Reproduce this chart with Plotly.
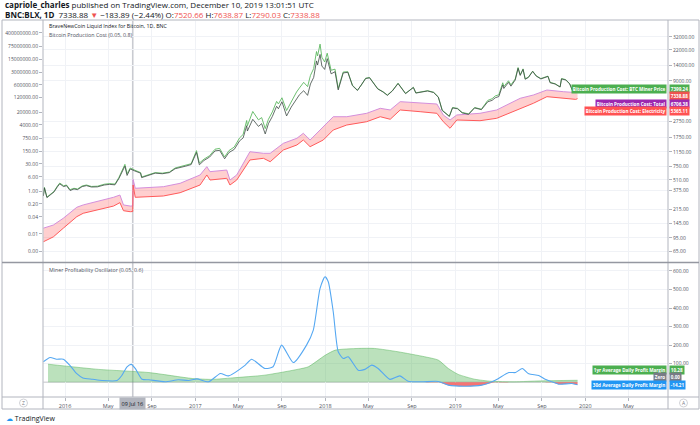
import numpy as np
import plotly.graph_objects as go

W, H = 700, 425
FONT = "Open Sans"
GRID = "#f0f2f6"
AXIS = "#b2b5be"

# BNC:BLX price (daily closes) and the BTC Miner Price line
price_dates = (
    ['2015-11-01', '2015-11-04', '2015-11-11', '2015-11-20', '2015-12-01', '2015-12-10', '2015-12-17', '2015-12-28']
    + ['2016-01-05', '2016-01-15', '2016-01-26', '2016-02-05', '2016-02-18', '2016-03-01', '2016-03-15', '2016-04-01',
       '2016-04-20', '2016-05-05', '2016-05-20', '2016-05-31']
    + ['2016-06-12', '2016-06-17', '2016-06-23', '2016-07-02', '2016-07-15', '2016-07-31', '2016-08-03', '2016-08-20',
       '2016-09-10', '2016-09-30', '2016-10-20', '2016-11-05', '2016-11-20', '2016-12-05', '2016-12-20']
    + ['2017-01-04', '2017-01-12', '2017-01-25', '2017-02-10', '2017-02-25', '2017-03-10', '2017-03-24', '2017-04-05',
       '2017-04-20', '2017-05-05', '2017-05-15', '2017-05-25', '2017-05-27', '2017-06-11', '2017-06-27']
    + ['2017-07-06', '2017-07-16', '2017-07-25', '2017-08-05', '2017-08-17', '2017-08-22', '2017-09-01', '2017-09-14',
       '2017-09-27', '2017-10-12', '2017-10-20', '2017-11-01', '2017-11-12', '2017-11-20', '2017-11-29', '2017-12-07',
       '2017-12-10', '2017-12-17', '2017-12-22', '2017-12-30']
    + ['2018-01-06', '2018-01-17', '2018-01-28', '2018-02-06', '2018-02-20', '2018-03-05', '2018-03-18', '2018-04-01',
       '2018-04-12', '2018-04-24', '2018-05-05', '2018-05-28', '2018-06-12', '2018-06-24', '2018-07-08', '2018-07-24',
       '2018-08-14', '2018-08-30', '2018-09-05', '2018-09-12', '2018-09-25', '2018-10-15', '2018-11-01', '2018-11-14',
       '2018-11-25', '2018-12-06', '2018-12-15', '2018-12-24']
    + ['2019-01-07', '2019-01-20', '2019-02-07', '2019-02-24', '2019-03-15', '2019-04-02', '2019-04-14', '2019-04-23',
       '2019-05-03', '2019-05-14', '2019-05-17', '2019-05-30', '2019-06-06', '2019-06-18', '2019-06-26', '2019-07-02',
       '2019-07-10', '2019-07-16', '2019-07-25', '2019-08-06', '2019-08-16', '2019-08-29', '2019-09-18', '2019-09-24',
       '2019-10-08', '2019-10-22', '2019-10-26', '2019-11-07', '2019-11-18', '2019-11-25', '2019-12-01', '2019-12-06',
       '2019-12-10']
)
price_close = (
    [320, 405, 305, 325, 360, 415, 455, 420]
    + [432, 375, 392, 385, 420, 432, 415, 417, 440, 448, 442, 530]
    + [680, 760, 580, 700, 660, 620, 545, 580, 620, 610, 630, 705, 740, 760, 795]
    + [1130, 790, 895, 990, 1180, 1200, 940, 1125, 1235, 1580, 1720, 2450, 2100, 2950, 2400]
    + [2600, 1930, 2600, 3200, 4300, 4000, 4900, 3250, 4200, 5400, 6000, 6750, 5900, 8200, 9900, 16000,
       14200, 19300, 13800, 12500]
    + [17100, 11000, 11700, 6900, 11300, 11500, 7800, 6800, 7900, 9600, 9800, 7100, 6500, 5900, 6700, 8300,
       6200, 7000, 7400, 6300, 6500, 6700, 6400, 5600, 3800, 3500, 3200, 4100]
    + [4000, 3550, 3400, 4100, 3900, 4900, 5100, 5500, 5700, 8000, 7200, 8600, 7700, 9200, 12900, 10500,
       12500, 9400, 9900, 11800, 10300, 9500, 10200, 8500, 8200, 7500, 9500, 9200, 8200, 6900, 7400, 7500,
       7338.88]
)
miner_price = (
    [325, 410, 310, 330, 365, 425, 465, 430]
    + [440, 385, 400, 392, 428, 440, 422, 425, 450, 458, 452, 545]
    + [710, 800, 610, 720, 675, 630, 555, 590, 630, 620, 640, 720, 755, 775, 815]
    + [1190, 830, 930, 1030, 1240, 1270, 990, 1190, 1320, 1720, 1900, 2850, 2450, 3700, 2900]
    + [3100, 2250, 2950, 3650, 4950, 4600, 5500, 3800, 4900, 6500, 7300, 8600, 7600, 10500, 12800, 21000,
       18500, 26000, 17800, 15500]
    + [20000, 12200, 12600, 7200, 11600, 11700, 7900, 6850, 7950, 9700, 9900, 7150, 6550, 5950, 6750, 8400,
       6250, 7050, 7450, 6350, 6550, 6750, 6450, 5650, 3850, 3530, 3230, 4150]
    + [4050, 3600, 3450, 4150, 3950, 5100, 5350, 5800, 6000, 8500, 7600, 9000, 8000, 9500, 13200, 10700,
       12700, 9550, 10000, 11900, 10400, 9600, 10300, 8600, 8250, 7550, 9600, 9300, 8250, 6950, 7450, 7550,
       7399.24]
)

# Bitcoin Production Cost band (Total on top, Electricity below)
cost_dates = ['2015-11-01', '2015-11-29', '2015-12-27', '2016-02-03', '2016-02-21', '2016-03-30', '2016-05-16',
              '2016-06-03', '2016-06-13', '2016-07-02', '2016-07-09', '2016-07-10', '2016-07-16', '2016-10-03',
              '2016-11-19', '2017-01-14', '2017-02-02', '2017-02-11', '2017-03-30', '2017-04-08', '2017-04-27',
              '2017-06-03', '2017-07-11', '2017-07-30', '2017-09-05', '2017-10-13', '2017-10-31', '2017-11-19',
              '2017-12-26', '2018-01-23', '2018-03-02', '2018-04-27', '2018-06-04', '2018-07-02', '2018-07-30',
              '2018-09-24', '2018-11-10', '2018-11-28', '2018-12-17', '2019-01-05', '2019-03-11', '2019-04-27',
              '2019-07-02', '2019-08-08', '2019-09-15', '2019-10-31', '2019-12-05', '2019-12-10']
cost_total = [126, 138, 168, 231, 247, 271, 308, 329, 247, 239, 240, 519, 400, 419, 462, 588, 748, 647, 679, 508,
              588, 1153, 1102, 1102, 1472, 1702, 1967, 1620, 2382, 3177, 3177, 3508, 4055, 3863, 4914, 4690, 4592,
              3342, 2891, 3342, 3508, 3863, 5420, 5960, 6890, 6560, 6400, 6706.38]
cost_electricity = [85, 98, 126, 176, 194, 213, 239, 264, 209, 203, 204, 440, 308, 320, 352, 440, 588, 508, 534,
                    440, 508, 908, 953, 863, 1213, 1402, 1620, 1334, 1620, 2163, 2500, 2752, 3177, 2951, 3863, 3675,
                    3508, 2752, 2274, 2891, 2831, 3036, 4055, 4690, 5680, 5420, 5250, 5365.11]

# Miner Profitability Oscillator
osc_dates = ['2015-11-01', '2015-11-20', '2015-12-08', '2015-12-27', '2016-01-14', '2016-02-02', '2016-02-20',
             '2016-03-18', '2016-04-14', '2016-05-26', '2016-06-09', '2016-06-23', '2016-07-05', '2016-07-16',
             '2016-08-04', '2016-08-23', '2016-10-08', '2016-11-14', '2016-12-13', '2017-01-05', '2017-02-07',
             '2017-03-12', '2017-04-04', '2017-05-21', '2017-06-08', '2017-07-15', '2017-08-07', '2017-08-31',
             '2017-10-03', '2017-11-09', '2017-11-28', '2017-12-17', '2017-12-31', '2018-01-09', '2018-01-23',
             '2018-02-06', '2018-02-20', '2018-03-06', '2018-04-03', '2018-04-22', '2018-05-11', '2018-05-29',
             '2018-07-01', '2018-07-29', '2018-08-21', '2018-09-28', '2018-11-14', '2018-12-12', '2019-01-28',
             '2019-03-16', '2019-04-23', '2019-05-31', '2019-06-19', '2019-07-08', '2019-07-26', '2019-08-23',
             '2019-09-10', '2019-09-29', '2019-10-18', '2019-11-24', '2019-12-10']
osc_30d = [110, 133, 124, 124, 92, 47, 23, 16, 9, 9, 38, 83, 96, 74, 16, 13, 2, 13, 9, 18, 2, 47, 34, 92, 124, 74,
           83, 200, 106, 200, 281, 506, 569, 542, 380, 164, 128, 137, 65, 69, 92, 74, 15, 34, 5, 2, 4, -16, -22,
           -16, 11, 52, 52, 74, 45, 36, 16, 2, -11, -7, -14.21]

avg_dates = ['2015-11-14', '2016-04-04', '2016-08-23', '2016-12-23', '2017-02-17', '2017-04-14', '2017-07-15',
             '2017-10-17', '2017-11-14', '2018-01-01', '2018-01-29', '2018-04-03', '2018-05-19', '2018-07-24',
             '2018-10-07', '2018-11-14', '2018-12-12', '2019-01-09', '2019-02-24', '2019-04-11', '2019-06-15',
             '2019-08-28', '2019-12-10']
avg_1yr = [97, 69, 52, 20, 15, 23, 38, 70, 83, 146, 173, 182, 182, 164, 137, 119, 74, 42, 16, 5, 2, 7, 10.28]

time_ticks = ['2016-01-01', '2016-05-01', '2016-09-01', '2017-01-01', '2017-05-01', '2017-09-01', '2018-01-01',
              '2018-05-01', '2018-09-01', '2019-01-01', '2019-05-01', '2019-09-01', '2020-01-01', '2020-05-01']
time_labels = ['2016', 'May', 'Sep', '2017', 'May', 'Sep', '2018', 'May', 'Sep', '2019', 'May', 'Sep', '2020', 'May']

price_ticks = [32000, 22000, 14000, 9000, 2750, 1750, 1150, 750, 510, 375, 215, 145, 95, 65]
left_ticks = [4e8, 7.5e7, 1.5e7, 3e6, 6e5, 1.2e5, 2e4, 4000, 750, 150, 30, 6, 1, 0.2, 0.04, 0.0047, 0.00055]
left_labels = ['400000000.00', '75000000.00', '15000000.00', '3000000.00', '600000.00', '120000.00', '20000.00',
               '4000.00', '750.00', '150.00', '30.00', '6.00', '1.00', '0.20', '0.04', '0.01', '0.00']
osc_ticks = [100, 200, 300, 400, 500, 600]

crosshair_date = '2016-07-09'


def px(x, y):
    return x / W, 1 - y / H


fig = go.Figure()

# top pane
fig.add_trace(go.Scatter(x=cost_dates, y=cost_total, mode='lines', line=dict(color='#d48fdc', width=1)))
fig.add_trace(go.Scatter(x=cost_dates, y=cost_electricity, mode='lines', line=dict(color='#ff5a5a', width=1),
                         fill='tonexty', fillcolor='rgba(255,82,82,0.28)'))
fig.add_trace(go.Scatter(x=price_dates, y=miner_price, mode='lines', line=dict(color='#5cb860', width=0.9)))
fig.add_trace(go.Scatter(x=price_dates, y=price_close, mode='lines', line=dict(color='#3d4a44', width=0.8)))
# dummy point so the left scale gets drawn
fig.add_trace(go.Scatter(x=[price_dates[0]], y=[1], yaxis='y2', mode='markers', marker=dict(opacity=0)))

# oscillator pane
fig.add_trace(go.Scatter(x=avg_dates, y=avg_1yr, xaxis='x2', yaxis='y3', mode='lines',
                         line=dict(color='rgba(76,175,80,0.45)', width=1, shape='spline', smoothing=0.6),
                         fill='tozeroy', fillcolor='rgba(76,175,80,0.38)'))
neg_30d = np.minimum(np.array(osc_30d, dtype=float), 0)
fig.add_trace(go.Scatter(x=osc_dates, y=neg_30d, xaxis='x2', yaxis='y3', mode='lines',
                         line=dict(width=0, shape='spline', smoothing=0.6),
                         fill='tozeroy', fillcolor='rgba(242,70,70,0.75)'))
fig.add_trace(go.Scatter(x=osc_dates, y=osc_30d, xaxis='x2', yaxis='y3', mode='lines',
                         line=dict(color='#55a8f2', width=1.1, shape='spline', smoothing=0.6)))

x_dom = [43 / W, 668 / W]
x_range = ['2015-10-31', '2020-08-20']
tickfont = dict(family=FONT, size=5, color='#50535e')

fig.update_layout(
    width=W, height=H, margin=dict(l=0, r=0, t=0, b=0),
    paper_bgcolor='white', plot_bgcolor='white',
    showlegend=False, hovermode=False,
    font=dict(family=FONT, size=5, color='#50535e'),
    xaxis=dict(domain=x_dom, range=x_range, anchor='y', type='date', tickvals=time_ticks,
               showticklabels=False, showgrid=True, gridcolor=GRID, zeroline=False, showline=False, ticks=''),
    xaxis2=dict(domain=x_dom, range=x_range, anchor='y3', type='date', tickvals=time_ticks, ticktext=time_labels,
                showgrid=True, gridcolor=GRID, zeroline=False, showline=False, ticks='outside', ticklen=3,
                tickcolor=AXIS, tickfont=dict(family=FONT, size=5.5, color='#50535e')),
    yaxis=dict(domain=[1 - 262 / H, 1 - 21 / H], type='log', range=[1.675, 4.706], side='right', anchor='x',
               tickvals=price_ticks, ticktext=[f'{v:.2f}' for v in price_ticks], ticks='outside', ticklen=3,
               tickcolor=AXIS, tickfont=tickfont, showgrid=True, gridcolor=GRID, zeroline=False, showline=False),
    yaxis2=dict(overlaying='y', side='left', anchor='x', type='log', range=[-3.857, 9.252], tickvals=left_ticks,
                ticktext=left_labels, ticks='outside', ticklen=3, tickcolor=AXIS, tickfont=tickfont,
                showgrid=False, zeroline=False, showline=False),
    yaxis3=dict(domain=[1 - 397 / H, 1 - 263 / H], range=[-80, 643], side='right', anchor='x2',
                tickvals=osc_ticks, ticktext=[f'{v:.2f}' for v in osc_ticks], ticks='outside', ticklen=3,
                tickcolor=AXIS, tickfont=tickfont, showgrid=True, gridcolor=GRID, zeroline=False, showline=False),
)

shapes = []


def pline(x0, y0, x1, y1, color=AXIS, width=1):
    a, b = px(x0, y0)
    c, d = px(x1, y1)
    shapes.append(dict(type='line', xref='paper', yref='paper', x0=a, y0=b, x1=c, y1=d,
                       line=dict(color=color, width=width), layer='above'))


pline(2, 20, 699, 20)
pline(2, 20, 2, 409)
pline(699, 20, 699, 409)
pline(2, 409, 699, 409)
pline(43, 20, 43, 409)
pline(668, 20, 668, 409)
pline(2, 262.5, 699, 262.5, color='#9598a1', width=1.6)
pline(2, 397, 699, 397)

shapes.append(dict(type='line', xref='x', yref='paper', x0=crosshair_date, x1=crosshair_date,
                   y0=1 - 397 / H, y1=1 - 21 / H, line=dict(color='#c9cbd1', width=1.6), layer='below'))
shapes.append(dict(type='line', xref='x2', yref='y3', x0=osc_dates[0], x1=osc_dates[-1], y0=0, y1=0,
                   line=dict(color='rgba(120,123,134,0.45)', width=1), layer='below'))

for cx in (23.5, 683.5):
    a, b = px(cx - 4, 399)
    c, d = px(cx + 4, 407)
    shapes.append(dict(type='circle', xref='paper', yref='paper', x0=a, y0=b, x1=c, y1=d,
                       line=dict(color='#c5c7cd', width=0.8), fillcolor='white'))

fig.update_layout(shapes=shapes)

ann = []


def text(x, y, s, size=6, color='#131722', anchor='left', **kw):
    a, b = px(x, y)
    ann.append(dict(xref='paper', yref='paper', x=a, y=b, text=s, showarrow=False, xanchor=anchor,
                    yanchor='middle', font=dict(family=FONT, size=size, color=color), **kw))


red = '#ef5350'
text(3, 5, '<b>capriole_charles</b> published on TradingView.com, December 10, 2019 13:01:51 UTC', size=8)
text(3, 14, f'<b>BNC:BLX, 1D</b>  7338.88 <span style="color:{red}">▼</span> −183.89 (−2.44%) '
            f'O:<span style="color:{red}">7520.66</span> H:<span style="color:{red}">7638.87</span> '
            f'L:<span style="color:{red}">7290.03</span> C:<span style="color:{red}">7338.88</span>', size=8)
text(47, 25.5, 'BraveNewCoin Liquid Index for Bitcoin, 1D, BNC', size=5.3)
text(47, 34.5, 'Bitcoin Production Cost (0.05, 0.8)', size=5.3, color='#50535e')
text(47, 269.5, 'Miner Profitability Oscillator (0.05, 0.6)', size=5.3, color='#50535e')

value_tags = [
    ('Bitcoin Production Cost: BTC Miner Price', '7399.24', '#4caf50', 88.5),
    (None, '7338.88', '#ef5350', 96),
    ('Bitcoin Production Cost: Total', '6706.38', '#9c27b0', 103.5),
    ('Bitcoin Production Cost: Electricity', '5365.11', '#ff5252', 111),
    ('1yr Average Daily Profit Margin', '10.28', '#4caf50', 369.5),
    ('Zero', '0.00', '#787b86', 377),
    ('30d Average Daily Profit Margin', '-14.21', '#2196f3', 384.5),
]
for label, val, col, yy in value_tags:
    if label:
        text(667, yy, f'<b>{label}</b>', size=4.6, color='white', anchor='right', bgcolor=col, borderpad=0.8)
    text(669, yy, f'<b>{val}</b>', size=4.6, color='white', anchor='left', bgcolor=col, borderpad=0.8)

ann.append(dict(xref='x2', yref='paper', x=crosshair_date, y=1 - 403 / H, text='09 Jul 16', showarrow=False,
                xanchor='center', yanchor='middle', bgcolor='#b2b5be', borderpad=1.5,
                font=dict(family=FONT, size=5.5, color='#131722')))
text(23.5, 403, 'Z', size=5, color='#787b86', anchor='center')
text(683.5, 403, 'A', size=5, color='#787b86', anchor='center')
text(4, 418, '<span style="color:#2196f3">☁</span> TradingView', size=7)

fig.update_layout(annotations=ann)

# the page's default body margin would push the fixed-size figure out of the window
fig.write_html("out.html", config={'displayModeBar': False},
               post_script="document.body.style.margin='0px';")
